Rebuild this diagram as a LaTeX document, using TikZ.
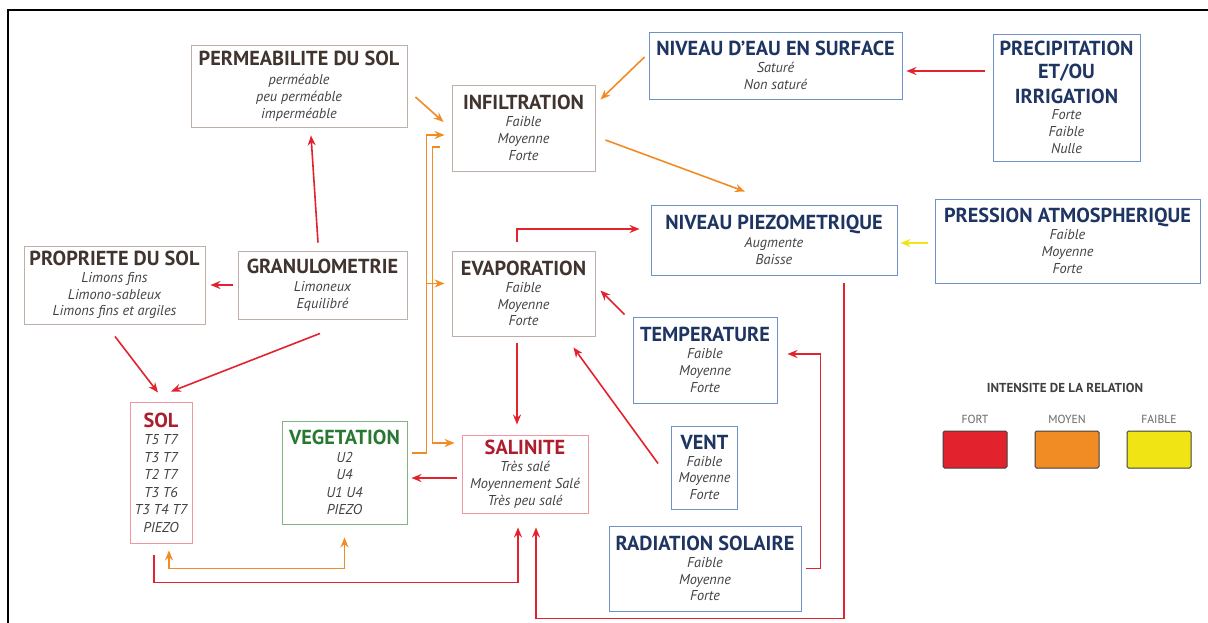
\documentclass[tikz,border=0pt]{standalone}
\usepackage{fontspec}
\setmainfont{PT Sans}
\usepackage{tikz}
\usetikzlibrary{arrows.meta, calc}
\definecolor{fortred}{RGB}{226, 35, 45}
\definecolor{moyenorange}{RGB}{240, 140, 35}
\definecolor{faibleyellow}{RGB}{240, 228, 20}
\definecolor{brownborder}{RGB}{190, 176, 166}
\definecolor{blueborder}{RGB}{110, 145, 200}
\definecolor{pinkborder}{RGB}{240, 150, 160}
\definecolor{greenborder}{RGB}{130, 180, 130}
\definecolor{browntitle}{RGB}{65, 52, 46}
\definecolor{bluetitle}{RGB}{30, 52, 98}
\definecolor{redtitle}{RGB}{172, 30, 45}
\definecolor{greentitle}{RGB}{40, 120, 50}
\definecolor{itemgray}{RGB}{66, 66, 66}
\newcommand{\ttl}[2]{{\color{#1}\fontsize{20.3}{22}\selectfont\bfseries\upshape #2}}

\begin{document}
\begin{tikzpicture}[
    x=1pt, y=-1pt,
    box/.style={rectangle, draw, line width=0.9pt, align=center, inner sep=2pt, text=itemgray, font=\fontsize{14.3}{16.8}\selectfont\itshape},
    brownbox/.style={box, draw=brownborder},
    bluebox/.style={box, draw=blueborder},
    pinkbox/.style={box, draw=pinkborder},
    greenbox/.style={box, draw=greenborder},
    fort/.style={-{Stealth[length=10pt, width=8pt]}, line width=1.6pt, draw=fortred},
    moyen/.style={-{Stealth[length=10pt, width=8pt]}, line width=1.6pt, draw=moyenorange},
    faible/.style={-{Stealth[length=10pt, width=8pt]}, line width=1.6pt, draw=faibleyellow},
    legbox/.style={rectangle, draw=black!75, line width=1pt, rounded corners=1.5pt, minimum width=64pt, minimum height=37pt},
    legtext/.style={text=black!60, font=\fontsize{11.7}{13}\selectfont}
]
    \useasboundingbox (0,0) rectangle (1208,623);
    \draw[line width=1.5pt] (8,623) -- (8,10) -- (1208,10);

    % Sol
    \node[brownbox, minimum width=216pt, minimum height=82pt] (perm) at (299,86) {\ttl{browntitle}{PERMEABILITE DU SOL}\\[3pt]perméable\\peu perméable\\imperméable};
    \node[brownbox, minimum width=181pt, minimum height=78pt] (propr) at (114.5,285) {\ttl{browntitle}{PROPRIETE DU SOL}\\Limons fins\\Limono-sableux\\Limons fins et argiles};
    \node[brownbox, minimum width=169pt, minimum height=68pt] (granulo) at (322.5,285) {\ttl{browntitle}{GRANULOMETRIE}\\[1pt]Limoneux\\Equilibré};
    \node[pinkbox, minimum width=62pt, minimum height=141pt, font=\fontsize{14.3}{17.5}\selectfont\itshape] (sol) at (161,472.5) {\ttl{redtitle}{SOL}\\T5 T7\\T3 T7\\T2 T7\\T3 T6\\T3 T4 T7\\PIEZO};
    \node[greenbox, minimum width=125pt, minimum height=103pt, font=\fontsize{14.3}{17.5}\selectfont\itshape] (veget) at (344.5,472.5) {\ttl{greentitle}{VEGETATION}\\U2\\U4\\U1 U4\\PIEZO};

    % Eau
    \node[brownbox, minimum width=143pt, minimum height=86pt] (infil) at (523.5,128) {\ttl{browntitle}{INFILTRATION}\\Faible\\Moyenne\\Forte};
    \node[brownbox, minimum width=143pt, minimum height=85pt] (evap) at (523.5,293.5) {\ttl{browntitle}{EVAPORATION}\\Faible\\Moyenne\\Forte};
    \node[pinkbox, minimum width=126pt, minimum height=78pt] (salin) at (525,474) {\ttl{redtitle}{SALINITE}\\Très salé\\Moyennement Salé\\Très peu salé};
    \node[bluebox, minimum width=253pt, minimum height=67pt] (eausurf) at (775.5,65.5) {\ttl{bluetitle}{NIVEAU D'EAU EN SURFACE}\\Saturé\\Non saturé};
    \node[bluebox, minimum width=246pt, minimum height=70pt] (piezo) at (774,240) {\ttl{bluetitle}{NIVEAU PIEZOMETRIQUE}\\[1pt]Augmente\\Baisse};

    % Climat
    \node[bluebox, minimum width=147pt, minimum height=127pt] (precip) at (1066.5,97.5) {\ttl{bluetitle}{PRECIPITATION}\\[6pt]\ttl{bluetitle}{ET/OU}\\[6pt]\ttl{bluetitle}{IRRIGATION}\\Forte\\Faible\\Nulle};
    \node[bluebox, minimum width=265pt, minimum height=84pt] (pression) at (1067.5,241) {\ttl{bluetitle}{PRESSION ATMOSPHERIQUE}\\Faible\\Moyenne\\Forte};
    \node[bluebox, minimum width=144pt, minimum height=86pt] (temp) at (705,360) {\ttl{bluetitle}{TEMPERATURE}\\Faible\\Moyenne\\Forte};
    \node[bluebox, minimum width=66pt, minimum height=83pt] (vent) at (704.5,467.5) {\ttl{bluetitle}{VENT}\\Faible\\Moyenne\\Forte};
    \node[bluebox, minimum width=192pt, minimum height=85pt] (radiation) at (705,568.5) {\ttl{bluetitle}{RADIATION SOLAIRE}\\Faible\\Moyenne\\Forte};

    % Relations fortes
    \draw[fort] ($(granulo.north)+(-4.5,-8)$) -- ($(perm.south)+(12,8)$);
    \draw[fort] ($(granulo.west)+(-5,0)$) -- ($(propr.east)+(5,0)$);
    \draw[fort] ($(propr.south)+(0.5,12)$) -- ($(sol.north)+(-3,-9)$);
    \draw[fort] ($(granulo.south)+(-2.5,14)$) -- ($(sol.north)+(10,-10)$);
    \draw[fort] ($(evap.north)+(-6.5,-9)$) |- ($(piezo.west)+(-11,-11)$);
    \draw[fort] ($(temp.north west)+(-8,-2)$) -- ($(evap.east)+(5,-3)$);
    \draw[fort] ($(vent.west)+(-13,-4)$) -- ($(evap.south east)+(-22,11)$);
    \draw[fort] ($(evap.south)+(-6.5,7)$) -- ($(salin.north)+(-8,-10)$);
    \draw[fort] ($(salin.west)+(-5,4)$) -- ($(veget.east)+(4,5.5)$);
    \draw[fort] ($(radiation.east)+(5,0)$) -| ($(temp.east)+(43,-6)$) -- ($(temp.east)+(10,-6)$);
    \draw[fort] ($(piezo.south)+(70,8)$) |- ($(salin.south)+(11,105)$) -- ($(salin.south)+(11,14)$);
    \draw[fort] ($(sol.south)+(-7,12)$) |- ($(salin.south)+(-7,69)$) -- ($(salin.south)+(-7,14)$);
    \draw[fort] ($(precip.west)+(-8,-26.5)$) -- ($(eausurf.east)+(4,5.5)$);

    % Relations moyennes
    \draw[moyen] ($(perm.east)+(8,11)$) -- ($(infil.west)+(-8,-6)$);
    \draw[moyen] ($(eausurf.west)+(-4,-8.5)$) -- ($(infil.north east)+(5,15)$);
    \draw[moyen] ($(infil.east)+(10,12)$) -- ($(piezo.north)+(-29,-13)$);
    \draw[moyen, {Stealth[length=10pt, width=8pt]}-{Stealth[length=10pt, width=8pt]}] ($(sol.south)+(8,7)$) |- ($(veget.south)+(0,44)$) -- ($(veget.south)+(0,13)$);
    \draw[moyen] ($(veget.east)+(5,-19.5)$) -| ($(infil.west)+(-25,7)$) -- ($(infil.west)+(-7,7)$);
    \draw[moyen] ($(evap.west)+(-25,-10)$) -- ($(evap.west)+(-7,-10)$);
    \draw[moyen] ($(infil.west)+(-12,19)$) -| ($(salin.west)+(-29,-31)$) -- ($(salin.west)+(-7,-31)$);

    % Relations faibles
    \draw[faible] ($(pression.west)+(-7,2)$) -- ($(piezo.east)+(3,3)$);

    % Legende
    \node[font=\fontsize{13}{15}\selectfont\bfseries, text=black!75] (legtitle) at (1065,388) {INTENSITE DE LA RELATION};
    \node[legtext] (lfort) at (975,419) {FORT};
    \node[legtext] (lmoyen) at (1067,419) {MOYEN};
    \node[legtext] (lfaible) at (1159,419) {FAIBLE};
    \node[legbox, fill=fortred] (bfort) at (975,449.5) {};
    \node[legbox, fill=moyenorange] (bmoyen) at (1067,449.5) {};
    \node[legbox, fill=faibleyellow] (bfaible) at (1159,449.5) {};
\end{tikzpicture}
\end{document}
